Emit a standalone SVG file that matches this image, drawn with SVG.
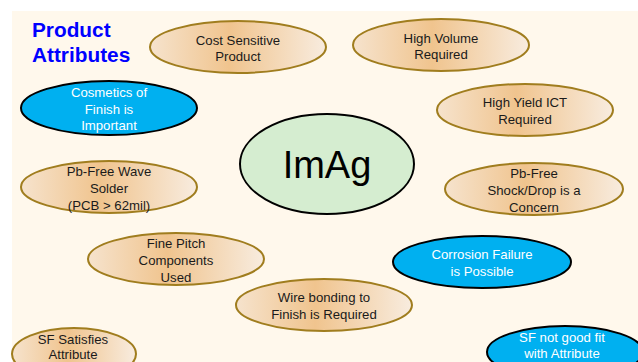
<svg xmlns="http://www.w3.org/2000/svg" width="638" height="362" viewBox="0 0 638 362">
  <defs>
    <linearGradient id="tan" x1="0" y1="0" x2="1" y2="0">
      <stop offset="0" stop-color="#F6E3CD"/>
      <stop offset="0.45" stop-color="#F0C48E"/>
      <stop offset="1" stop-color="#F8ECDF"/>
    </linearGradient>
  </defs>
  <style>
    .tan { fill: url(#tan); stroke: #A07D1E; stroke-width: 2; }
    .blue { fill: #00B0F0; stroke: #000; stroke-width: 2; }
    .core { fill: #D5EDD0; stroke: #000; stroke-width: 2; }
    text { font-family: "Liberation Sans", Arial, sans-serif; text-anchor: middle; }
    .dark { font-size: 13.2px; fill: #1A1A1A; }
    .light { font-size: 13.2px; fill: #FFFFFF; }
    .title { font-size: 20.8px; font-weight: bold; fill: #0000FF; text-anchor: start; }
  </style>

  <!-- page -->
  <rect width="638" height="362" fill="#FFFFFF"/>
  <rect x="12" y="11" width="626" height="351" fill="#FFF8EC"/>

  <g id="title">
    <text class="title" x="32" y="37">Product</text>
    <text class="title" x="32" y="62">Attributes</text>
  </g>

  <g id="connectors"></g>

  <g id="cost-sensitive">
    <ellipse class="tan" cx="238" cy="47" rx="88" ry="26"/>
    <text class="dark" x="238" y="45">Cost Sensitive</text>
    <text class="dark" x="238" y="61">Product</text>
  </g>

  <g id="high-volume">
    <ellipse class="tan" cx="441" cy="45" rx="88" ry="26"/>
    <text class="dark" x="441" y="43">High Volume</text>
    <text class="dark" x="441" y="59">Required</text>
  </g>

  <g id="cosmetics">
    <ellipse class="blue" cx="109" cy="108" rx="88" ry="27"/>
    <text class="light" x="109" y="97">Cosmetics of</text>
    <text class="light" x="109" y="114">Finish is</text>
    <text class="light" x="109" y="130">Important</text>
  </g>

  <g id="high-yield-ict">
    <ellipse class="tan" cx="525" cy="110" rx="88" ry="26"/>
    <text class="dark" x="525" y="107">High Yield ICT</text>
    <text class="dark" x="525" y="124">Required</text>
  </g>

  <g id="imag">
    <ellipse class="core" cx="327" cy="164" rx="87" ry="50"/>
    <text x="327" y="178" font-size="38" fill="#000">ImAg</text>
  </g>

  <g id="pb-free-wave">
    <ellipse class="tan" cx="109" cy="187" rx="88" ry="26"/>
    <text class="dark" x="109" y="176">Pb-Free Wave</text>
    <text class="dark" x="109" y="193">Solder</text>
    <text class="dark" x="109" y="210">(PCB &gt; 62mil)</text>
  </g>

  <g id="pb-free-shock">
    <ellipse class="tan" cx="534" cy="189" rx="89" ry="26"/>
    <text class="dark" x="534" y="178">Pb-Free</text>
    <text class="dark" x="534" y="195">Shock/Drop is a</text>
    <text class="dark" x="534" y="212">Concern</text>
  </g>

  <g id="fine-pitch">
    <ellipse class="tan" cx="176" cy="259" rx="88" ry="26"/>
    <text class="dark" x="176" y="248">Fine Pitch</text>
    <text class="dark" x="176" y="265">Components</text>
    <text class="dark" x="176" y="282">Used</text>
  </g>

  <g id="corrosion">
    <ellipse class="blue" cx="482" cy="262" rx="89" ry="26"/>
    <text class="light" x="482" y="259">Corrosion Failure</text>
    <text class="light" x="482" y="276">is Possible</text>
  </g>

  <g id="wire-bonding">
    <ellipse class="tan" cx="324" cy="305" rx="88" ry="26"/>
    <text class="dark" x="324" y="302">Wire bonding to</text>
    <text class="dark" x="324" y="319">Finish is Required</text>
  </g>

  <g id="sf-satisfies">
    <ellipse class="tan" cx="74" cy="354" rx="62" ry="26"/>
    <text class="dark" x="73" y="344">SF Satisfies</text>
    <text class="dark" x="73" y="359">Attribute</text>
  </g>

  <g id="sf-not-good">
    <ellipse class="blue" cx="565" cy="352" rx="78" ry="26"/>
    <text class="light" x="562" y="342">SF not good fit</text>
    <text class="light" x="562" y="358">with Attribute</text>
  </g>
</svg>
